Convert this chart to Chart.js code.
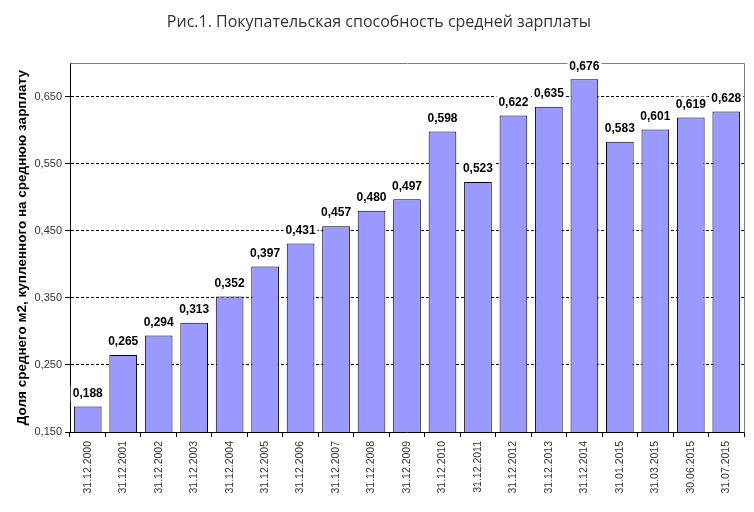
<!DOCTYPE html>
<html><head><meta charset="utf-8">
<script src="https://cdn.jsdelivr.net/npm/chart.js@4.4.1/dist/chart.umd.min.js"></script>
<style>html,body{margin:0;padding:0;background:#fff}#wrap{width:754px;height:512px}</style>
</head><body><div id="wrap"><canvas id="c" width="754" height="512"></canvas></div>
<script>
const categories = ["31.12.2000","31.12.2001","31.12.2002","31.12.2003","31.12.2004","31.12.2005","31.12.2006","31.12.2007","31.12.2008","31.12.2009","31.12.2010","31.12.2011","31.12.2012","31.12.2013","31.12.2014","31.01.2015","31.03.2015","30.06.2015","31.07.2015"];
const values = [0.188,0.265,0.294,0.313,0.352,0.397,0.431,0.457,0.480,0.497,0.598,0.523,0.622,0.635,0.676,0.583,0.601,0.619,0.628];
const yTicks = [0.15,0.25,0.35,0.45,0.55,0.65];
const titleText = "Рис.1. Покупательская способность средней зарплаты";
const yTitle = "Доля среднего м2, купленного на среднюю зарплату";

const fmt = v => v.toFixed(3).replace('.', ',');

const labelPlugin = {
  id: 'labels',
  afterDatasetsDraw(chart) {
    const ctx = chart.ctx, a = chart.chartArea;
    ctx.save();
    ctx.strokeStyle = '#808080'; ctx.lineWidth = 1;
    ctx.beginPath();
    ctx.moveTo(Math.round(a.left)+0.5, Math.round(a.top)+0.5);
    ctx.lineTo(Math.round(a.right)+0.5, Math.round(a.top)+0.5);
    ctx.lineTo(Math.round(a.right)+0.5, Math.round(a.bottom)+0.5);
    ctx.stroke();
    const meta = chart.getDatasetMeta(0);
    ctx.font = 'bold 12px "Liberation Sans", Arial, sans-serif';
    ctx.textAlign = 'center'; ctx.textBaseline = 'middle';
    meta.data.forEach((bar, i) => {
      const t = fmt(values[i]);
      const w = ctx.measureText(t).width;
      const cy = bar.y - 13;
      ctx.fillStyle = '#fff';
      ctx.fillRect(bar.x - w/2 - 2, cy - 8, w + 4, 16);
      ctx.fillStyle = '#000';
      ctx.fillText(t, bar.x, cy);
    });
    ctx.restore();
  }
};

new Chart(document.getElementById('c'), {
  type: 'bar',
  data: { labels: categories, datasets: [{ data: values, backgroundColor: '#9999FF', borderColor: '#000', borderWidth: 1, barPercentage: 0.78, categoryPercentage: 1 }] },
  options: {
    responsive: false, animation: false, devicePixelRatio: 1,
    layout: { padding: { left: 14, right: 10, top: 0, bottom: 0 } },
    plugins: {
      legend: { display: false }, tooltip: { enabled: false },
      title: { display: true, text: titleText, color: '#333', font: { family: '"Open Sans", sans-serif', size: 16, weight: 'normal', lineHeight: 1.2 }, padding: { top: 13, bottom: 31 } }
    },
    scales: {
      x: {
        offset: true,
        grid: { display: true, drawOnChartArea: false, drawTicks: true, tickLength: 5, tickColor: '#000', offset: true },
        border: { color: '#000', width: 1 },
        ticks: { minRotation: 90, maxRotation: 90, color: '#333', padding: 4, font: { family: '"Liberation Sans", Arial, sans-serif', size: 10.5 } },
        afterFit(s) { s.height = 80; }
      },
      y: {
        min: 0.15, max: 0.70,
        afterBuildTicks(s) { s.ticks = yTicks.map(v => ({ value: v })); },
        grid: { color: ctx => (ctx.tick && ctx.tick.value > 0.2) ? '#000' : 'rgba(0,0,0,0)', tickColor: '#000', tickLength: 5, tickBorderDash: [] },
        border: { color: '#000', width: 1, dash: [3, 2] },
        ticks: { color: '#333', padding: 3, font: { family: '"Liberation Sans", Arial, sans-serif', size: 11 }, callback: v => fmt(v) },
        title: { display: true, text: yTitle, color: '#000', font: { family: '"Liberation Sans", Arial, sans-serif', size: 13.5, weight: 'bold' }, padding: { top: 0, bottom: 4 } },
        afterFit(s) { s.width = 56; }
      }
    }
  },
  plugins: [labelPlugin]
});
</script></body></html>
